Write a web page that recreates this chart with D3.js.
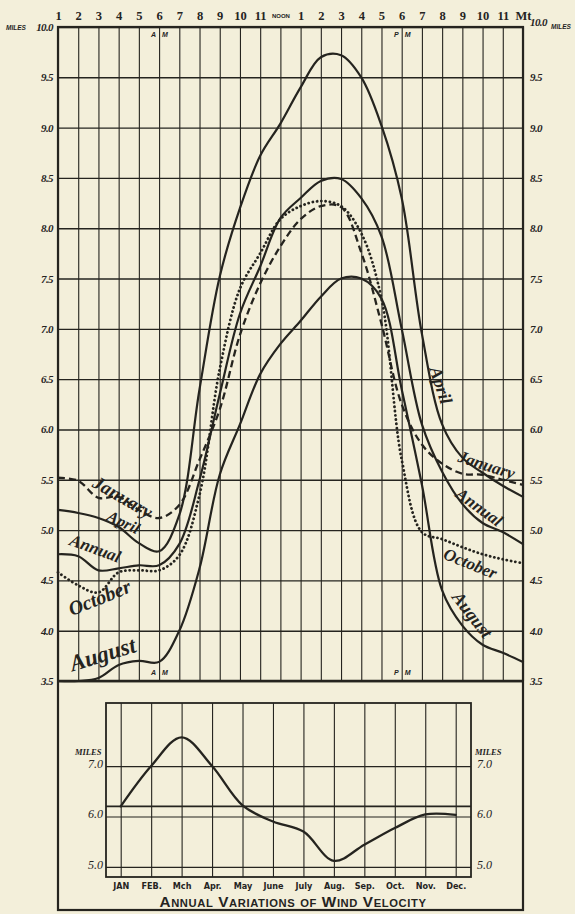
<!DOCTYPE html>
<html>
<head>
<meta charset="utf-8">
<script src="https://cdn.jsdelivr.net/npm/d3@7"></script>
<style>
  html, body { margin: 0; padding: 0; background: #f3efda; }
  svg { display: block; }
</style>
</head>
<body>
<svg id="chart" width="575" height="914"></svg>
<script>
// ---- Daily variation of wind velocity (miles per hour), 1 a.m. to midnight ----
const hours = [1, 2, 3, 4, 5, 6, 7, 8, 9, 10, 11, 12, 13, 14, 15, 16, 17, 18, 19, 20, 21, 22, 23, 24];
const hourLabels = ["1", "2", "3", "4", "5", "6", "7", "8", "9", "10", "11", "NOON",
                    "1", "2", "3", "4", "5", "6", "7", "8", "9", "10", "11", "Mt"];

const january = [5.52, 5.49, 5.32, 5.33, 5.2, 5.12, 5.25, 5.7, 6.2, 6.94, 7.45, 7.82,
                 8.09, 8.22, 8.21, 7.76, 7.05, 6.25, 5.85, 5.66, 5.56, 5.55, 5.5, 5.45];
const april   = [5.2, 5.17, 5.12, 5.03, 4.87, 4.79, 5.15, 6.4, 7.52, 8.2, 8.72, 9.04,
                 9.4, 9.7, 9.72, 9.5, 9.02, 8.3, 6.95, 6.05, 5.72, 5.57, 5.44, 5.33];
const annual  = [4.76, 4.74, 4.6, 4.62, 4.65, 4.65, 4.86, 5.5, 6.35, 7.15, 7.62, 8.1,
                 8.3, 8.47, 8.49, 8.3, 7.92, 7.0, 6.05, 5.58, 5.26, 5.07, 4.98, 4.86];
const october = [4.58, 4.45, 4.38, 4.58, 4.6, 4.6, 4.75, 5.35, 6.6, 7.4, 7.75, 8.09,
                 8.22, 8.27, 8.22, 7.95, 7.3, 5.7, 4.98, 4.91, 4.83, 4.76, 4.71, 4.67];
const august  = [3.5, 3.5, 3.53, 3.66, 3.7, 3.69, 4.0, 4.62, 5.55, 6.05, 6.55, 6.85,
                 7.08, 7.32, 7.5, 7.5, 7.3, 6.4, 5.45, 4.4, 4.05, 3.86, 3.78, 3.69];

const mileTicks = [3.5, 4.0, 4.5, 5.0, 5.5, 6.0, 6.5, 7.0, 7.5, 8.0, 8.5, 9.0, 9.5, 10.0];

// ---- Annual variation (monthly means) ----
const months = ["JAN", "FEB.", "Mch", "Apr.", "May", "June", "July", "Aug.", "Sep.", "Oct.", "Nov.", "Dec."];
const monthlyVelocity = [6.2, 7.0, 7.57, 7.0, 6.22, 5.9, 5.7, 5.12, 5.44, 5.77, 6.04, 6.03];
const monthlyTicks = [5.0, 6.0, 7.0];
const monthlyTickLabels = ["5.0", "6.0", "7.0"];
const annualMean = 6.2;

// ---------------------------------------------------------------
const ink = "#25241f";
const paper = "#f3efda";
const svg = d3.select("#chart");
svg.append("rect").attr("width", 575).attr("height", 914).attr("fill", paper);

const serif = "'Liberation Serif', 'DejaVu Serif', serif";
const sans = "'Liberation Sans', 'DejaVu Sans', sans-serif";

const x = d3.scaleLinear().domain([1, 24]).range([58, 523]);
const y = d3.scaleLinear().domain([3.5, 10]).range([681, 27]);

// hour grid + labels along the top
const topAxis = svg.append("g")
  .attr("transform", `translate(0,${y(10)})`)
  .call(d3.axisTop(x).tickValues(hours)
        .tickSize(-(y(3.5) - y(10)))
        .tickPadding(7)
        .tickFormat((d, i) => hourLabels[i]));
topAxis.select(".domain").remove();
topAxis.selectAll("line").attr("stroke", ink).attr("stroke-width", 1.1);
topAxis.selectAll("text")
  .attr("fill", ink)
  .attr("font-weight", "bold")
  .attr("font-size", d => (d === 12 ? 6 : 12.5))
  .attr("font-family", d => (d === 12 ? sans : serif))
  .attr("dy", d => (d === 12 ? "-0.3em" : "0em"));

// mile grid + labels on both sides
const leftAxis = svg.append("g")
  .attr("transform", `translate(${x(1)},0)`)
  .call(d3.axisLeft(y).tickValues(mileTicks)
        .tickSize(-(x(24) - x(1)))
        .tickPadding(5)
        .tickFormat(d3.format(".1f")));
leftAxis.select(".domain").remove();
leftAxis.selectAll("line").attr("stroke", ink).attr("stroke-width", 1.4);

const rightAxis = svg.append("g")
  .attr("transform", `translate(${x(24)},0)`)
  .call(d3.axisRight(y).tickValues(mileTicks)
        .tickSize(0)
        .tickPadding(7)
        .tickFormat(d3.format(".1f")));
rightAxis.select(".domain").remove();

[leftAxis, rightAxis].forEach(a => a.selectAll("text")
  .attr("fill", ink)
  .attr("font-family", serif)
  .attr("font-style", "italic")
  .attr("font-weight", "bold")
  .attr("font-size", 11)
  .attr("letter-spacing", -0.6));
rightAxis.selectAll("text").filter(d => d === 10).attr("dy", "-0.1em");

svg.append("text").attr("x", 6).attr("y", y(10) + 3)
  .attr("font-family", sans).attr("font-weight", "bold").attr("font-style", "italic")
  .attr("font-size", 6.5).attr("fill", ink).text("MILES");
svg.append("text").attr("x", x(24) + 28).attr("y", y(10) + 2)
  .attr("font-family", sans).attr("font-weight", "bold").attr("font-style", "italic")
  .attr("font-size", 6.5).attr("fill", ink).text("MILES");

// A.M. / P.M. markers beside the 6 o'clock lines
const meridiem = [{ h: 6, t: "A", u: "M" }, { h: 18, t: "P", u: "M" }];
[y(10) + 10, y(3.5) - 6].forEach(yy => {
  meridiem.forEach(m => {
    svg.append("text").attr("x", x(m.h) - 3).attr("y", yy)
      .attr("text-anchor", "end").attr("font-family", sans).attr("font-weight", "bold")
      .attr("font-style", "italic").attr("font-size", 7).attr("fill", ink).text(m.t);
    svg.append("text").attr("x", x(m.h) + 3).attr("y", yy)
      .attr("font-family", sans).attr("font-weight", "bold")
      .attr("font-style", "italic").attr("font-size", 7).attr("fill", ink).text(m.u);
  });
});

// hourly curves
const series = [
  { name: "January", values: january, dash: "7 4", width: 2.3, cap: "butt" },
  { name: "April",   values: april,   dash: null,  width: 2.2, cap: "round" },
  { name: "Annual",  values: annual,  dash: null,  width: 2.2, cap: "round" },
  { name: "October", values: october, dash: "0.1 4.2", width: 2.8, cap: "round" },
  { name: "August",  values: august,  dash: null,  width: 2.2, cap: "round" }
];
const hourLine = d3.line()
  .x((d, i) => x(hours[i]))
  .y(d => y(d))
  .curve(d3.curveCatmullRom.alpha(0.5));

svg.append("g").selectAll("path").data(series).join("path")
  .attr("d", s => hourLine(s.values))
  .attr("fill", "none")
  .attr("stroke", ink)
  .attr("stroke-width", s => s.width)
  .attr("stroke-linecap", s => s.cap)
  .attr("stroke-dasharray", s => s.dash);

// hand-lettered curve names (anchored in hour / mile units)
const curveNames = [
  { t: "January", h: 4.21, v: 5.33, a: 30, s: 19 },
  { t: "April",   h: 4.25, v: 5.08, a: 26, s: 16 },
  { t: "Annual",  h: 2.85, v: 4.82, a: 20, s: 17 },
  { t: "October", h: 3.05, v: 4.33, a: -22, s: 20 },
  { t: "August",  h: 3.2,  v: 3.77, a: -17, s: 23 },
  { t: "April",   h: 19.95, v: 6.44, a: 72, s: 18 },
  { t: "January", h: 22.2, v: 5.65, a: 18, s: 17 },
  { t: "Annual",  h: 21.85, v: 5.23, a: 36, s: 17 },
  { t: "October", h: 21.4, v: 4.67, a: 22, s: 17 },
  { t: "August",  h: 21.5, v: 4.16, a: 52, s: 18 }
];
svg.append("g").selectAll("text").data(curveNames).join("text")
  .attr("transform", d => `translate(${x(d.h)},${y(d.v)}) rotate(${d.a})`)
  .attr("text-anchor", "middle")
  .attr("dy", "0.35em")
  .attr("font-family", serif)
  .attr("font-style", "italic")
  .attr("font-weight", "bold")
  .attr("font-size", d => d.s)
  .attr("fill", ink)
  .text(d => d.t);

// outer frame and the heavy base line of the daily chart
svg.append("rect")
  .attr("x", x(1)).attr("y", y(10))
  .attr("width", x(24) - x(1)).attr("height", 910 - y(10))
  .attr("fill", "none").attr("stroke", ink).attr("stroke-width", 2.2);
svg.append("line")
  .attr("x1", x(1)).attr("x2", x(24)).attr("y1", y(3.5)).attr("y2", y(3.5))
  .attr("stroke", ink).attr("stroke-width", 2.6);

// ---- annual variation inset ----
const xm = d3.scalePoint().domain(months).range([120.7, 455.7]);
const ym = d3.scaleLinear().domain([4.8, 8.25]).range([877, 703]);
const inset = { left: 106, right: 471 };

const monthAxis = svg.append("g")
  .attr("transform", `translate(0,${ym(4.8)})`)
  .call(d3.axisBottom(xm).tickSize(-(ym(4.8) - ym(8.25))).tickPadding(6));
monthAxis.select(".domain").remove();
monthAxis.selectAll("line").attr("stroke", ink).attr("stroke-width", 1.1);
monthAxis.selectAll("text")
  .attr("fill", ink)
  .attr("font-family", "'DejaVu Sans Condensed', 'Liberation Sans Narrow', sans-serif")
  .attr("font-weight", "bold")
  .attr("font-size", 9);

const mAxisL = svg.append("g")
  .attr("transform", `translate(${inset.left},0)`)
  .call(d3.axisLeft(ym).tickValues(monthlyTicks)
        .tickSize(-(inset.right - inset.left)).tickPadding(3)
        .tickFormat((d, i) => monthlyTickLabels[i]));
mAxisL.select(".domain").remove();
mAxisL.selectAll("line").attr("stroke", ink).attr("stroke-width", 1.2);

const mAxisR = svg.append("g")
  .attr("transform", `translate(${inset.right},0)`)
  .call(d3.axisRight(ym).tickValues(monthlyTicks)
        .tickSize(0).tickPadding(6)
        .tickFormat((d, i) => monthlyTickLabels[i]));
mAxisR.select(".domain").remove();

[mAxisL, mAxisR].forEach(a => a.selectAll("text")
  .attr("fill", ink)
  .attr("font-family", serif)
  .attr("font-style", "italic")
  .attr("font-size", 12)
  .attr("dy", "0.1em"));

[inset.left - 31, inset.right + 4].forEach(xx => {
  svg.append("text").attr("x", xx).attr("y", ym(7) - 11)
    .attr("font-family", serif).attr("font-weight", "bold")
    .attr("font-style", "italic").attr("font-size", 8.5).attr("fill", ink).text("MILES");
});

// annual mean reference line
svg.append("line")
  .attr("x1", inset.left).attr("x2", inset.right)
  .attr("y1", ym(annualMean)).attr("y2", ym(annualMean))
  .attr("stroke", ink).attr("stroke-width", 1.7);

// inset frame
svg.append("rect")
  .attr("x", inset.left).attr("y", ym(8.25))
  .attr("width", inset.right - inset.left).attr("height", ym(4.8) - ym(8.25))
  .attr("fill", "none").attr("stroke", ink).attr("stroke-width", 1.8);

const monthLine = d3.line()
  .x((d, i) => xm(months[i]))
  .y(d => ym(d))
  .curve(d3.curveCatmullRom.alpha(0.5));
svg.append("path")
  .attr("d", monthLine(monthlyVelocity))
  .attr("fill", "none").attr("stroke", ink).attr("stroke-width", 2.3)
  .attr("stroke-linecap", "round");

svg.append("text")
  .attr("x", 293).attr("y", 907)
  .attr("text-anchor", "middle")
  .attr("font-family", sans)
  .attr("font-weight", "bold")
  .attr("font-size", 15)
  .attr("font-variant", "small-caps")
  .attr("letter-spacing", 0.6)
  .attr("textLength", 267)
  .attr("lengthAdjust", "spacingAndGlyphs")
  .attr("fill", ink)
  .text("Annual Variations of Wind Velocity");
</script>
</body>
</html>
